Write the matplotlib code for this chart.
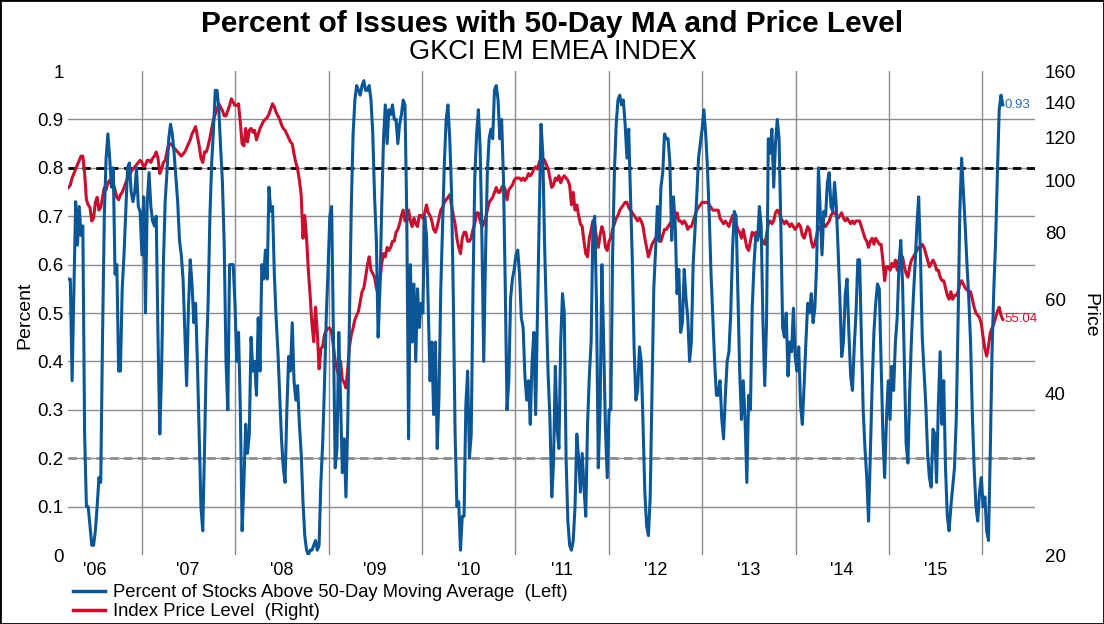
import pandas as pd
import matplotlib
matplotlib.use("Agg")
import matplotlib.pyplot as plt
from matplotlib.patches import Rectangle

plt.rcParams['font.family'] = ['Liberation Sans', 'DejaVu Sans']

# weekly readings, GKCI EM EMEA index
pct_above = [
    0.57, 0.57, 0.36, 0.55, 0.73, 0.64, 0.72, 0.66, 0.68, 0.25,
    0.10, 0.10, 0.06, 0.02, 0.02, 0.05, 0.10, 0.16, 0.15, 0.45,
    0.70, 0.82, 0.87, 0.82, 0.76, 0.80, 0.58, 0.60, 0.38, 0.38,
    0.55, 0.62, 0.71, 0.80, 0.81, 0.75, 0.73, 0.75, 0.80, 0.72,
    0.71, 0.62, 0.74, 0.50, 0.73, 0.79, 0.72, 0.69, 0.68, 0.70,
    0.45, 0.25, 0.38, 0.60, 0.73, 0.79, 0.86, 0.89, 0.87, 0.83,
    0.78, 0.73, 0.65, 0.62, 0.57, 0.46, 0.35, 0.51, 0.61, 0.56,
    0.48, 0.52, 0.40, 0.25, 0.10, 0.05, 0.22, 0.41, 0.52, 0.70,
    0.81, 0.88, 0.96, 0.96, 0.92, 0.84, 0.77, 0.64, 0.40, 0.30,
    0.60, 0.60,
    0.60, 0.52, 0.40, 0.46, 0.30, 0.05, 0.15, 0.27, 0.21, 0.25,
    0.45, 0.38, 0.40, 0.33, 0.49, 0.38, 0.60, 0.57, 0.63, 0.57,
    0.76, 0.71, 0.72, 0.58, 0.49, 0.42, 0.33, 0.24, 0.18, 0.15,
    0.30, 0.41, 0.38, 0.48, 0.36, 0.32, 0.35, 0.27, 0.21, 0.11,
    0.04, 0.01, 0.00, 0.01, 0.01, 0.02, 0.03, 0.01, 0.02, 0.15,
    0.23, 0.35, 0.49, 0.59, 0.70, 0.72, 0.46, 0.18, 0.22, 0.46,
    0.32, 0.17, 0.24, 0.12, 0.27, 0.49, 0.72, 0.87, 0.94, 0.97,
    0.96, 0.95, 0.97, 0.98, 0.96, 0.96, 0.97, 0.94, 0.87, 0.74,
    0.65, 0.45, 0.55, 0.72, 0.86, 0.93, 0.85, 0.92, 0.91, 0.93,
    0.90, 0.90, 0.85, 0.89, 0.91,
    0.94, 0.93, 0.70, 0.24, 0.60, 0.44, 0.56, 0.40, 0.55, 0.47,
    0.52, 0.50, 0.70, 0.66, 0.51, 0.36, 0.44, 0.29, 0.44, 0.22,
    0.33, 0.55, 0.68, 0.81, 0.90, 0.93, 0.86, 0.75, 0.53, 0.25,
    0.10, 0.11, 0.01, 0.08, 0.08, 0.31, 0.38, 0.20, 0.25, 0.55,
    0.78, 0.87, 0.92, 0.84, 0.65, 0.40, 0.62, 0.79, 0.86, 0.88,
    0.86, 0.96, 0.97, 0.94, 0.86, 0.90, 0.78, 0.56, 0.30, 0.36,
    0.53, 0.57, 0.59, 0.62, 0.63, 0.58, 0.49, 0.47, 0.37, 0.32,
    0.36, 0.27, 0.40, 0.46, 0.29, 0.50, 0.70, 0.89, 0.83, 0.64,
    0.50, 0.37, 0.28, 0.12, 0.19, 0.39, 0.26, 0.22, 0.44, 0.54,
    0.50, 0.20, 0.07, 0.02, 0.01,
    0.03, 0.10, 0.25, 0.20, 0.13, 0.21, 0.14, 0.08, 0.27, 0.37,
    0.44, 0.68, 0.70, 0.52, 0.18, 0.30, 0.60, 0.44, 0.26, 0.16,
    0.30, 0.30, 0.62, 0.79, 0.89, 0.94, 0.95, 0.93, 0.94, 0.89,
    0.82, 0.88, 0.74, 0.61, 0.43, 0.32, 0.34, 0.43, 0.40, 0.27,
    0.13, 0.06, 0.04, 0.12, 0.33, 0.55, 0.63, 0.72, 0.65, 0.76,
    0.79, 0.87, 0.86, 0.86, 0.81, 0.65, 0.74, 0.68, 0.54, 0.59,
    0.46, 0.48, 0.59, 0.53, 0.49, 0.40, 0.44, 0.60, 0.67, 0.74,
    0.82, 0.85, 0.88, 0.92, 0.87, 0.80, 0.70, 0.58, 0.49, 0.40,
    0.33, 0.33, 0.36, 0.28, 0.24, 0.33, 0.40, 0.42, 0.50, 0.63,
    0.71, 0.70, 0.54, 0.38, 0.28,
    0.36, 0.28, 0.15, 0.33, 0.30, 0.51, 0.60, 0.66, 0.65, 0.72,
    0.68, 0.48, 0.35, 0.48, 0.86, 0.83, 0.88, 0.76, 0.85, 0.90,
    0.86, 0.68, 0.47, 0.45, 0.50, 0.37, 0.44, 0.42, 0.51, 0.41,
    0.38, 0.43, 0.31, 0.27, 0.35, 0.44, 0.52, 0.50, 0.54, 0.48,
    0.51, 0.60, 0.80, 0.71, 0.62, 0.71, 0.70, 0.77, 0.79, 0.72,
    0.71, 0.77, 0.72, 0.63, 0.53, 0.41, 0.44, 0.54, 0.57, 0.46,
    0.37, 0.34, 0.43, 0.50, 0.61, 0.61, 0.45, 0.30, 0.22, 0.16,
    0.07, 0.21, 0.35, 0.46, 0.52, 0.56, 0.55, 0.40, 0.25, 0.16,
    0.28, 0.36, 0.28, 0.39, 0.34, 0.44, 0.49, 0.60, 0.65, 0.56,
    0.40, 0.23,
    0.19, 0.34, 0.45, 0.53, 0.60, 0.68, 0.74, 0.62, 0.45, 0.38,
    0.31, 0.21, 0.16, 0.14, 0.26, 0.25, 0.15, 0.31, 0.42, 0.27,
    0.36, 0.18, 0.08, 0.05, 0.10, 0.14, 0.18, 0.28, 0.48, 0.71,
    0.82, 0.75, 0.68, 0.60, 0.53, 0.44, 0.29, 0.18, 0.10, 0.07,
    0.13, 0.16, 0.10, 0.12, 0.05, 0.03, 0.21, 0.42, 0.55, 0.65,
    0.79, 0.92, 0.95, 0.93,
]

price = [
    97, 98, 101, 103, 105, 107, 109, 111, 111, 103,
    92, 90, 89, 84, 85, 91, 93, 88, 89, 93,
    97, 96, 99, 100, 98, 99, 96, 93, 92, 94,
    95, 97, 99, 101, 102, 104, 105, 106, 107, 108,
    109, 108, 106, 107, 109, 109, 108, 110, 111, 113,
    110, 103, 105, 108, 109, 113, 117, 117, 116, 115,
    114, 113, 112, 111, 112, 113, 115, 117, 119, 122,
    124, 126, 121, 116, 110, 108, 113, 113, 116, 120,
    125, 130, 133, 136, 139, 137, 135, 132, 132, 135,
    138, 142,
    140, 138, 138, 139, 128, 117, 116, 125, 118, 124,
    125, 123, 124, 119, 122, 125, 127, 129, 130, 131,
    133, 136, 139, 137, 134, 132, 130, 127, 125, 124,
    122, 120, 118, 117, 112, 108, 105, 100, 94, 78,
    86, 78, 68, 61, 54, 50, 58, 52, 44.5, 48.5,
    49, 51.5, 52.5, 53, 53, 52, 49, 46, 44.5, 43,
    46, 42.4, 42, 41, 44.5, 49, 51.5, 53, 55, 56,
    57, 59.5, 62, 63, 66, 69.5, 72, 68, 67, 66,
    63, 61.5, 65, 70, 73, 72, 75, 74, 75, 77,
    77, 80, 81, 83, 86,
    88, 84, 84, 88, 84, 82, 85, 83, 82, 86,
    86, 85, 87, 90, 87, 86, 84, 81, 80, 82,
    85, 88, 89, 91, 92, 93, 94, 90, 86, 83,
    78, 75, 73, 78, 80, 80, 77, 77, 78, 81,
    83, 87, 87, 84, 82, 83, 85, 88, 91, 92,
    93, 95, 97, 95, 95, 97, 98, 96, 92, 96,
    97, 98, 100, 101, 101, 101, 100, 101, 100, 101,
    103, 102, 103, 105, 106, 105, 108, 110, 110, 109,
    107, 105, 101, 97, 98, 101, 100, 102, 99, 101,
    102, 101, 100, 98, 90,
    95, 88, 90, 86, 83, 82, 77, 73, 72, 78,
    81, 84, 83, 78, 75, 79, 82, 80, 75, 74,
    77, 78, 81, 83, 85, 86, 88, 89, 90, 91,
    91, 89, 88, 87, 86, 85, 84, 85, 84, 82,
    78, 75, 72, 74, 76, 77, 78, 79, 77, 77,
    79, 81, 81, 82, 83, 84, 82, 85, 87, 84,
    84, 83, 84, 83, 81, 82, 82, 84, 86, 88,
    89, 90, 91, 91, 91, 91, 90, 89, 88, 88,
    88, 88, 85, 84, 83, 84, 83, 82, 84, 86,
    86, 83, 81, 80, 78,
    81, 78, 75, 74, 77, 80, 79, 80, 79, 80,
    78, 77, 76, 79, 83, 84, 83, 84, 87, 88,
    87, 85, 84, 83, 84, 83, 82, 83, 82, 81,
    82, 83, 82, 79, 78, 80, 82, 81, 77, 75,
    76, 79, 82, 81, 82, 83, 82, 83, 84, 86,
    87, 87, 86, 85, 86, 87, 85, 84, 85, 84,
    83, 84, 83, 84, 84, 84, 82, 80, 78, 77,
    75, 77, 78, 76, 78, 77, 76, 76, 71, 65,
    69, 69, 68, 70, 69, 71, 68, 71, 72, 72,
    69, 67,
    66, 69, 71, 72, 73, 74, 75, 75, 76, 75,
    73, 71, 69, 70, 71, 70, 68, 68, 66, 65,
    65, 63, 61, 60, 62, 60, 61, 61, 62, 64,
    65, 64, 63, 62.5, 62, 62, 60, 58, 56.5, 56,
    55.5, 54, 51, 48.5, 47, 49, 52, 53, 54, 55.5,
    57, 58, 56, 55.04,
]

dates = pd.date_range("2006-03-20", periods=len(pct_above), freq="7D")

years = list(range(2006, 2016))
year_labels = ["'06", "'07", "'08", "'09", "'10", "'11", "'12", "'13", "'14", "'15"]
pct_ticks = [0, 0.1, 0.2, 0.3, 0.4, 0.5, 0.6, 0.7, 0.8, 0.9, 1]
pct_tick_labels = ["0", "0.1", "0.2", "0.3", "0.4", "0.5", "0.6", "0.7", "0.8", "0.9", "1"]
price_ticks = [20, 40, 60, 80, 100, 120, 140, 160]

blue = "#0A5697"
red = "#C8102E"
grid = "#8C8C8C"

W, H = 1104, 624
fig = plt.figure(figsize=(W / 100, H / 100), dpi=100)
ax = fig.add_axes([68 / W, (H - 555) / H, (1035 - 68) / W, (555 - 71) / H])
ax2 = ax.twinx()

# blue on top, red and grid underneath
ax.set_zorder(ax2.get_zorder() + 1)
ax.patch.set_visible(False)

for v in pct_ticks[1:-1]:
    ax2.plot([0, 1], [v, v], transform=ax2.transAxes, color=grid, lw=1, zorder=0)
for y in range(2007, 2017):
    ax2.axvline(pd.Timestamp(f"{y}-01-01"), color=grid, lw=1, zorder=0)
ax2.plot([0, 1], [0.8, 0.8], transform=ax2.transAxes, color="black", lw=2,
         dashes=(3, 2), zorder=1)
ax2.plot([0, 1], [0.2, 0.2], transform=ax2.transAxes, color=grid, lw=2,
         dashes=(3, 2), zorder=1)

ax2.plot(dates, price, color=red, lw=2.2, zorder=2)
ax.plot(dates, pct_above, color=blue, lw=2.2, zorder=3)

ax.set_xlim(pd.Timestamp("2006-03-18"), pd.Timestamp("2016-07-25"))
ax.set_ylim(0, 1)
ax2.set_yscale("log")
ax2.set_ylim(20, 160)

ax.set_yticks(pct_ticks)
ax.set_yticklabels(pct_tick_labels)
ax2.set_yticks(price_ticks)
ax2.set_yticklabels([str(p) for p in price_ticks])
ax2.yaxis.set_minor_locator(matplotlib.ticker.NullLocator())
ax.set_xticks([pd.Timestamp(f"{y}-07-01") for y in years])
ax.set_xticklabels(year_labels)

ax.tick_params(axis="y", length=0, pad=3, labelsize=13.5)
ax.tick_params(axis="x", length=0, pad=5, labelsize=13)
ax2.tick_params(axis="y", length=0, pad=7, labelsize=13.5)
for a in (ax, ax2):
    for s in a.spines.values():
        s.set_visible(False)

# end-of-series value labels
ax.annotate("0.93", (dates[-1], pct_above[-1]), xytext=(1, 0), textcoords="offset points",
            color="#2E6BAA", fontsize=9.5, va="center", ha="left")
ax2.annotate("55.04", (dates[-1], price[-1]), xytext=(1, 0), textcoords="offset points",
             color=red, fontsize=9.5, va="center", ha="left")

fig.text(552 / W, 1 - 32 / H, "Percent of Issues with 50-Day MA and Price Level",
         ha="center", va="baseline", fontsize=21.5, fontweight="bold")
fig.text(553 / W, 1 - 59 / H, "GKCI EM EMEA INDEX", ha="center", va="baseline", fontsize=19.5)
fig.text(25 / W, 1 - 315 / H, "Percent", rotation=90, ha="center", va="center", fontsize=14)
fig.text(1090 / W, 1 - 315 / H, "Price", rotation=270, ha="center", va="center", fontsize=14)

h1, = ax.plot([], [], color=blue, lw=2.5)
h2, = ax.plot([], [], color=red, lw=2.5)
fig.legend([h1, h2],
           ["Percent of Stocks Above 50-Day Moving Average  (Left)", "Index Price Level  (Right)"],
           loc="upper left", bbox_to_anchor=(73 / W, 1 - 584 / H), frameon=False,
           fontsize=13.2, handlelength=1.75, handletextpad=0.45, labelspacing=0.12,
           borderpad=0, borderaxespad=0)

fig.patches.append(Rectangle((0, 0), 1, 1, transform=fig.transFigure, fill=False,
                             edgecolor="black", lw=2))

fig.savefig("out.png", dpi=100)
